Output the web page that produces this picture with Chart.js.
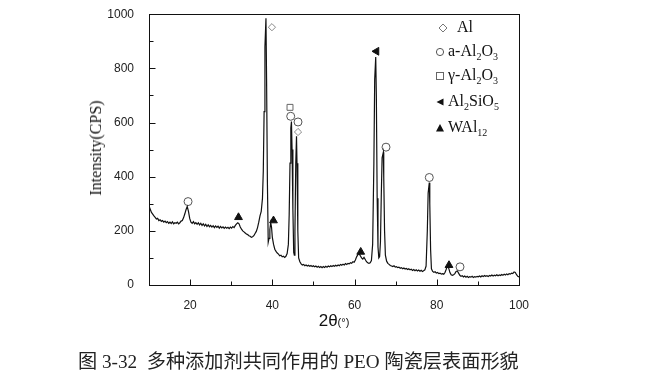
<!DOCTYPE html>
<html>
<head>
<meta charset="utf-8">
<script src="https://cdn.jsdelivr.net/npm/chart.js"></script>
<style>
  body { margin: 0; background: #fff; }
  #wrap { position: relative; width: 656px; height: 387px; }
  .ov { position: absolute; white-space: pre; color: #111; }
  .lg { font-family: "Liberation Serif", serif; font-size: 16px; line-height: 16px; }
  .lg sub { font-size: 10px; vertical-align: -4px; }
  .lg svg { position: absolute; left: -13px; top: 4px; }
</style>
</head>
<body>
<div id="wrap">
  <canvas id="xrd" width="656" height="387"></canvas>

  <div class="ov" style="left:96px;top:148px;transform:translate(-50%,-50%) rotate(-90deg);font-family:'Liberation Serif',serif;font-size:16px;">Intensity(CPS)</div>
  <div class="ov" style="left:334px;top:321px;transform:translate(-50%,-50%);font-family:'Liberation Sans',sans-serif;"><span style="font-size:17px">2θ</span><span style="font-size:11px">(°)</span></div>

  <div class="ov lg" style="left:457px;top:19px;"><svg width="10" height="10" style="left:-19px"><path d="M5 1 L9 5 L5 9 L1 5 Z" fill="none" stroke="#777" stroke-width="1"/></svg>Al</div>
  <div class="ov lg" style="left:448px;top:43px;"><svg width="10" height="10"><circle cx="5" cy="5" r="3.6" fill="none" stroke="#555" stroke-width="1"/></svg>a-Al<sub>2</sub>O<sub>3</sub></div>
  <div class="ov lg" style="left:448px;top:67px;"><svg width="10" height="10"><rect x="1.5" y="1.5" width="7" height="7" fill="none" stroke="#666" stroke-width="1"/></svg>γ-Al<sub>2</sub>O<sub>3</sub></div>
  <div class="ov lg" style="left:448px;top:93px;"><svg width="10" height="10"><path d="M1.5 5 L8.5 1.5 L8.5 8.5 Z" fill="#111"/></svg>Al<sub>2</sub>SiO<sub>5</sub></div>
  <div class="ov lg" style="left:448px;top:119px;"><svg width="10" height="10"><path d="M5 1 L9 8.5 L1 8.5 Z" fill="#111"/></svg>WAl<sub>12</sub></div>

  <div class="ov" style="left:78px;top:350px;font-family:'Liberation Serif','Noto Sans CJK SC',serif;font-size:19.2px;line-height:24px;color:#222;">图 3-32  多种添加剂共同作用的 PEO 陶瓷层表面形貌</div>
</div>

<script>
// diffraction angle (2θ) and counts
const twoTheta = [
  10.0,10.3,10.6,10.9,11.2,11.5,11.8,12.1,12.4,12.7,13.0,13.3,13.6,13.9,14.2,14.5,14.8,15.1,15.4,15.7,
  16.0,16.3,16.6,16.9,17.2,17.5,17.8,18.1,18.4,18.7,19.0,19.3,19.6,19.9,20.2,20.5,20.8,21.1,21.4,21.7,
  22.0,22.3,22.6,22.9,23.2,23.5,23.8,24.1,24.4,24.7,25.0,25.3,25.6,25.9,26.2,26.5,26.8,27.1,27.4,27.7,
  28.0,28.3,28.6,28.9,29.2,29.5,29.8,30.1,30.4,30.7,31.0,31.3,31.6,31.9,32.2,32.5,32.8,33.1,33.4,33.7,
  34.0,34.3,34.6,34.9,35.2,35.5,35.8,36.1,36.4,36.7,37.0,37.3,37.6,37.8,38.0,38.2,38.45,38.6,38.8,39.0,
  39.2,39.4,39.6,39.8,40.0,40.3,40.6,40.9,41.2,41.5,41.8,42.1,42.4,42.7,43.0,43.3,43.6,43.9,44.1,44.3,
  44.5,44.65,44.8,45.0,45.2,45.35,45.5,45.7,45.88,46.0,46.2,46.4,46.7,47.0,47.3,47.6,47.9,48.2,48.5,48.8,
  49.1,49.4,49.7,50.0,50.3,50.6,50.9,51.2,51.5,51.8,52.1,52.4,52.7,53.0,53.3,53.6,53.9,54.2,54.5,54.8,
  55.1,55.4,55.7,56.0,56.3,56.6,56.9,57.2,57.5,57.8,58.1,58.4,58.7,59.0,59.3,59.6,59.9,60.2,60.5,60.8,
  61.1,61.4,61.7,62.0,62.3,62.6,62.9,63.2,63.5,63.8,64.1,64.4,64.7,64.9,65.15,65.3,65.5,65.7,65.9,66.1,
  66.3,66.5,66.7,67.0,67.1,67.3,67.5,67.8,68.1,68.4,68.7,69.0,69.3,69.6,69.9,70.2,70.5,70.8,71.1,71.4,
  71.7,72.0,72.3,72.6,72.9,73.2,73.5,73.8,74.1,74.4,74.7,75.0,75.3,75.6,75.9,76.2,76.5,76.8,77.1,77.4,
  77.7,77.9,78.18,78.3,78.5,78.7,79.0,79.3,79.6,79.9,80.2,80.5,80.8,81.1,81.4,81.7,82.0,82.3,82.56,82.9,
  83.2,83.5,83.8,84.1,84.4,84.7,85.0,85.3,85.6,85.9,86.2,86.5,86.8,87.1,87.4,87.7,88.0,88.3,88.6,88.9,
  89.2,89.5,89.8,90.1,90.4,90.7,91.0,91.3,91.6,91.9,92.2,92.5,92.8,93.1,93.4,93.7,94.0,94.3,94.6,94.9,
  95.2,95.5,95.8,96.1,96.4,96.7,97.0,97.3,97.6,97.9,98.2,98.5,98.8,99.1,99.4,99.7,100.0
];
const intensity = [
  292,280,268,262,255,250,244,246,238,241,235,238,232,236,230,234,228,232,227,233,
  226,230,228,232,226,230,236,238,248,262,278,290,272,246,232,228,234,226,230,224,
  230,222,228,220,226,218,224,216,222,215,220,214,219,212,218,213,217,210,216,211,
  215,209,214,210,213,208,214,210,216,212,220,226,230,226,214,206,200,196,192,188,
  186,182,180,176,178,182,190,198,212,232,255,272,320,420,640,880,985,760,380,158,
  172,205,230,214,176,150,132,124,118,114,108,110,104,106,102,106,116,150,260,450,
  580,604,500,280,120,110,200,450,549,450,200,100,86,78,74,76,71,74,70,73,
  69,72,68,71,67,70,66,69,65,68,64,68,65,69,66,70,67,71,68,72,
  69,73,70,74,71,76,73,77,74,79,76,80,78,82,80,86,84,92,104,112,
  116,108,100,96,102,94,86,82,80,82,90,150,450,760,842,700,320,140,100,105,
  160,330,470,490,400,200,110,88,80,76,72,70,68,71,66,68,64,66,62,64,
  60,63,59,61,57,60,56,58,54,57,53,56,52,55,51,54,50,53,56,70,
  200,340,378,300,130,60,50,47,49,44,46,42,44,40,42,40,46,58,70,62,
  46,38,36,38,42,50,52,44,36,32,34,30,33,29,32,28,31,29,32,28,
  31,29,32,30,33,30,34,31,35,32,34,31,35,33,37,33,36,34,38,34,
  37,35,39,36,40,37,41,38,42,40,44,42,48,46,38,32,30
];

// phase markers [2θ, height]
const alPts      = [[39.9, 952], [46.25, 565]];
const alphaPts   = [[19.5, 308], [44.47, 623], [46.25, 602], [67.65, 509], [78.18, 397], [85.65, 67]];
const gammaPts   = [[44.3, 656]];
const silPts     = [[65.34, 863]];
const wal12Pts   = [[31.77, 250], [40.28, 238], [61.5, 122], [82.97, 73]];

const xTicks = [20, 40, 60, 80, 100];
const xMinor = [10, 30, 50, 70, 90];
const yTicks = [0, 200, 400, 600, 800, 1000];
const yMinor = [100, 300, 500, 700, 900];

const toXY = arr => arr.map(p => ({x: p[0], y: p[1]}));

Chart.defaults.font.family = 'Liberation Sans, Arial, sans-serif';
Chart.defaults.font.size = 12;
Chart.defaults.color = '#222';

// box frame + inward ticks
const frame = {
  id: 'frame',
  afterDraw(chart) {
    const {ctx, chartArea: a, scales} = chart;
    ctx.save();
    ctx.strokeStyle = '#111';
    ctx.lineWidth = 1;
    ctx.strokeRect(Math.round(a.left) + 0.5, Math.round(a.top) + 0.5,
                   Math.round(a.right - a.left), Math.round(a.bottom - a.top));
    ctx.beginPath();
    const bx = Math.round(a.bottom) + 0.5, lx = Math.round(a.left) + 0.5;
    xTicks.concat(xMinor).forEach(v => {
      const px = Math.round(scales.x.getPixelForValue(v)) + 0.5;
      const len = xTicks.includes(v) ? 6 : 4;
      ctx.moveTo(px, bx); ctx.lineTo(px, bx - len);
    });
    yTicks.concat(yMinor).forEach(v => {
      const py = Math.round(scales.y.getPixelForValue(v)) + 0.5;
      const len = yTicks.includes(v) ? 6 : 4;
      ctx.moveTo(lx, py); ctx.lineTo(lx + len, py);
    });
    ctx.stroke();
    ctx.restore();
  }
};

const mk = (data, style, opts) => Object.assign({
  type: 'scatter', data: toXY(data), pointStyle: style, showLine: false,
  pointRadius: 4, pointBorderWidth: 1, pointBorderColor: '#666',
  pointBackgroundColor: 'rgba(255,255,255,0)'
}, opts || {});

new Chart(document.getElementById('xrd'), {
  type: 'scatter',
  data: {
    datasets: [
      {
        data: twoTheta.map((t, i) => ({x: t, y: intensity[i]})),
        showLine: true, borderColor: '#111', borderWidth: 1.2,
        pointRadius: 0, tension: 0
      },
      mk(alPts, 'rectRot', {pointRadius: 3.6, pointBorderColor: '#888'}),
      mk(alphaPts, 'circle', {pointRadius: 4, pointBorderColor: '#555'}),
      mk(gammaPts, 'rect', {pointRadius: 4.2, pointBorderColor: '#666'}),
      mk(silPts, 'triangle', {pointRadius: 4.5, rotation: -90, pointBorderColor: '#111', pointBackgroundColor: '#111'}),
      mk(wal12Pts, 'triangle', {pointRadius: 4.5, pointBorderColor: '#111', pointBackgroundColor: '#111'})
    ]
  },
  options: {
    responsive: false,
    animation: false,
    events: [],
    layout: { padding: { left: 0, top: 12, right: 137, bottom: 72 } },
    plugins: { legend: { display: false }, tooltip: { enabled: false } },
    scales: {
      x: {
        type: 'linear', min: 10, max: 100,
        grid: { display: false },
        border: { display: false },
        afterBuildTicks: s => { s.ticks = xTicks.map(v => ({value: v})); },
        afterFit: s => { s.height = 30; },
        ticks: { padding: 5, maxRotation: 0, callback: v => String(v) }
      },
      y: {
        min: 0, max: 1000,
        grid: { display: false },
        border: { display: false },
        afterBuildTicks: s => { s.ticks = yTicks.map(v => ({value: v})); },
        afterFit: s => { s.width = 149; },
        ticks: { padding: 7, callback: v => String(v) }
      }
    }
  },
  plugins: [frame]
});
</script>
</body>
</html>
